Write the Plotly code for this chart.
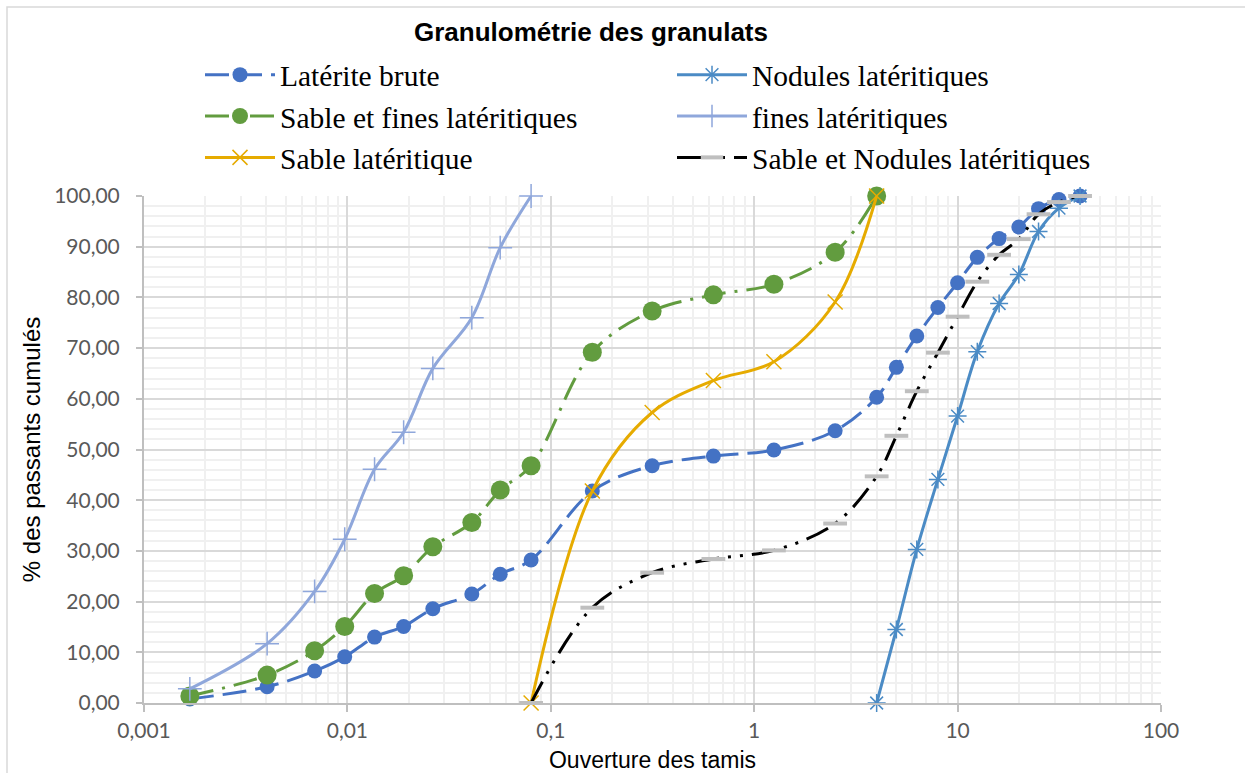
import plotly.graph_objects as go

# Sedimentometry diameters (mm) and sieve openings (mm)
sedim_mm = [0.00168, 0.00403, 0.0069, 0.0097, 0.0136, 0.0189, 0.0263, 0.0409, 0.0564]
sieves_mm = [0.08, 0.16, 0.315, 0.63, 1.25, 2.5, 4, 5, 6.3, 8, 10, 12.5, 16, 20, 25, 31.5, 40]

# Cumulative passing (%)
laterite_brute = [0.8, 3.2, 6.3, 9.1, 13.0, 15.1, 18.6, 21.5, 25.4,
                  28.2, 41.8, 46.8, 48.7, 49.9, 53.7, 60.3, 66.2, 72.4, 78.0,
                  82.9, 87.9, 91.6, 93.9, 97.5, 99.3, 100.0]
sable_fines = [1.4, 5.5, 10.3, 15.1, 21.6, 25.1, 30.8, 35.6, 42.0,
               46.8, 69.2, 77.3, 80.5, 82.6, 88.9, 100.0]
sable_lat = [0.0, 41.8, 57.3, 63.6, 67.3, 79.1, 100.0]
fines_lat = [2.8, 11.7, 22.0, 32.3, 46.1, 53.4, 66.0, 76.0, 89.8, 100.0]
nodules = [0.0, 14.5, 30.3, 44.1, 56.6, 69.3, 78.8, 84.5, 93.0, 97.6, 100.0]
sable_nodules = [0.0, 18.8, 25.7, 28.4, 30.1, 35.4, 44.7, 52.7, 61.5, 69.1,
                 76.2, 83.1, 88.4, 91.5, 96.4, 98.8, 100.0]

x_ticks = [0.001, 0.01, 0.1, 1, 10, 100]
x_ticktext = ["0,001", "0,01", "0,1", "1", "10", "100"]

W, H = 1245, 773
L, R, T, B = 144, 84, 196, 70
PW, PH = W - L - R, H - T - B


def px_x(p):
    return (p - L) / PW


def px_y(p):
    return (H - B - p) / PH


fig = go.Figure()

common = dict(mode="lines+markers", line_shape="spline", cliponaxis=False)

fig.add_trace(go.Scatter(
    x=sedim_mm + sieves_mm, y=laterite_brute, name="Latérite brute",
    line=dict(color="#4472c4", width=3, dash="24px,9px"),
    marker=dict(symbol="circle", size=15, color="#4472c4"), **common))

fig.add_trace(go.Scatter(
    x=sieves_mm[6:], y=nodules, name="Nodules latéritiques",
    line=dict(color="#4b8bc5", width=3),
    marker=dict(symbol="asterisk-open", size=15, color="#4b8bc5",
                line=dict(color="#4b8bc5", width=1.5)), **common))

fig.add_trace(go.Scatter(
    x=sedim_mm + sieves_mm[:7], y=sable_fines, name="Sable et fines latéritiques",
    line=dict(color="#629c3f", width=3, dash="24px,9px,3px,9px"),
    marker=dict(symbol="circle", size=19, color="#629c3f"), **common))

fig.add_trace(go.Scatter(
    x=sedim_mm + sieves_mm[:1], y=fines_lat, name="fines latéritiques",
    line=dict(color="#8fa7db", width=3),
    marker=dict(symbol="cross-thin-open", size=17, color="#8fa7db",
                line=dict(color="#8fa7db", width=1.5)), **common))

fig.add_trace(go.Scatter(
    x=sieves_mm[:7], y=sable_lat, name="Sable latéritique",
    line=dict(color="#e6ab00", width=3),
    marker=dict(symbol="x-thin-open", size=15, color="#e6ab00",
                line=dict(color="#e6ab00", width=1.5)), **common))

fig.add_trace(go.Scatter(
    x=sieves_mm, y=sable_nodules, name="Sable et Nodules latéritiques",
    line=dict(color="#000000", width=3, dash="24px,9px,3px,9px,3px,9px"),
    marker=dict(symbol="line-ew-open", size=17, color="#bfbfbf",
                line=dict(color="#bfbfbf", width=4)), **common))

minor_x = [k * 10.0 ** e for e in range(-3, 2) for k in range(2, 10)]

fig.update_xaxes(
    type="log", range=[-3, 2], automargin=False,
    tickvals=x_ticks, ticktext=x_ticktext,
    showgrid=True, gridcolor="#d9d9d9", gridwidth=1.5,
    minor=dict(tickvals=minor_x, showgrid=True, gridcolor="#f0f0f0", gridwidth=1.5),
    ticks="outside", ticklen=7, tickcolor="#bfbfbf", tickwidth=1.5,
    showline=True, linecolor="#bfbfbf", linewidth=2, zeroline=False,
    tickfont=dict(family="Lato", size=21, color="#595959"),
    ticklabelstandoff=1,
    title=dict(text="Ouverture des tamis", standoff=16,
               font=dict(family="Liberation Sans", size=23, color="#000000")),
)

fig.update_yaxes(
    range=[0, 100], dtick=10, tickformat=".2f", automargin=False,
    showgrid=True, gridcolor="#d9d9d9", gridwidth=1.5,
    minor=dict(dtick=2, showgrid=True, gridcolor="#f0f0f0", gridwidth=1.5),
    ticks="outside", ticklen=6, tickcolor="#bfbfbf", tickwidth=1.5,
    showline=True, linecolor="#bfbfbf", linewidth=2, zeroline=False,
    tickfont=dict(family="Lato", size=21, color="#595959"),
    ticklabelstandoff=12,
    title=dict(text="% des passants cumulés", standoff=7,
               font=dict(family="Liberation Sans", size=24, color="#000000")),
)

fig.update_layout(
    width=W, height=H,
    margin=dict(l=L, r=R, t=T, b=B, autoexpand=False),
    paper_bgcolor="white", plot_bgcolor="white",
    separators=", ",
    title=dict(text="<b>Granulométrie des granulats</b>",
               x=px_x(591), xref="paper", xanchor="center",
               y=1 - 32 / H, yanchor="middle",
               font=dict(family="Liberation Sans", size=26, color="#000000")),
    legend=dict(
        orientation="h", x=px_x(200), y=px_y(49), xanchor="left", yanchor="top",
        entrywidth=387, itemwidth=70, traceorder="normal",
        font=dict(family="Liberation Serif", size=29.5, color="#000000"),
        bgcolor="rgba(0,0,0,0)", tracegroupgap=0,
    ),
    showlegend=True,
    shapes=[dict(type="rect", xref="paper", yref="paper",
                 x0=px_x(7), x1=px_x(W + 10), y0=px_y(7), y1=px_y(H + 10),
                 line=dict(color="#d9d9d9", width=1.5), layer="below")],
)

fig.write_html("out.html")
